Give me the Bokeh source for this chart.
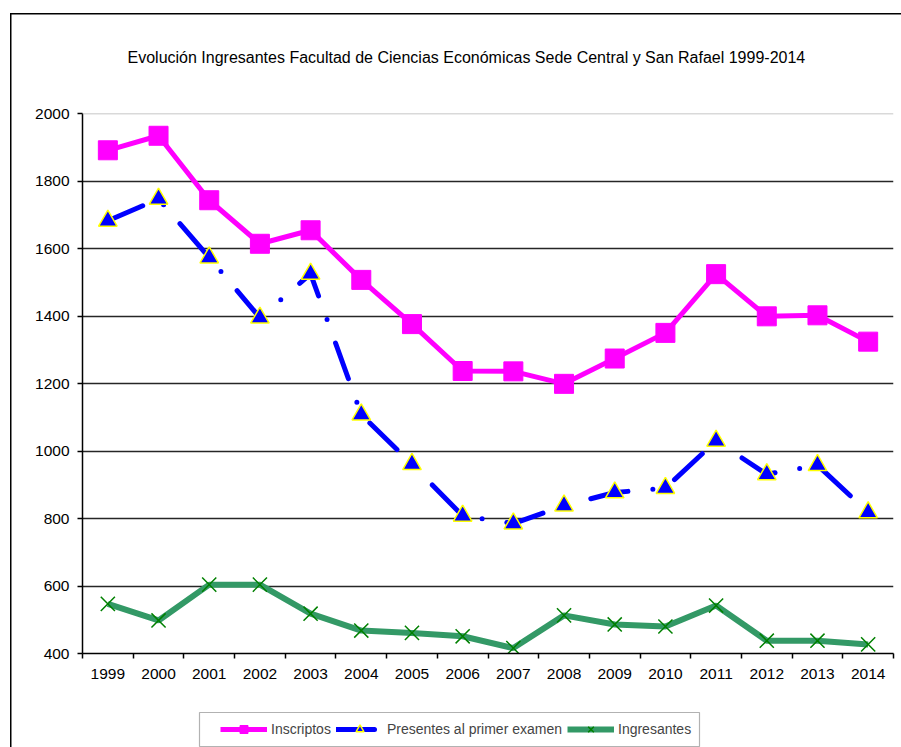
from bokeh.plotting import figure
from bokeh.layouts import column
from bokeh.models import Range1d, FixedTicker, Span, Legend, LegendItem, BoxAnnotation
from bokeh.embed import file_html
from bokeh.resources import INLINE

# ---- data ----
years = [str(y) for y in range(1999, 2015)]
inscriptos = [1891, 1934, 1743, 1614, 1654, 1507, 1376, 1237, 1236, 1199, 1274, 1350, 1524, 1399, 1402, 1324]
presentes = [1682, 1747, 1573, 1395, 1525, 1108, 961, 808, 785, 838, 877, 890, 1030, 931, 958, 818]
ingresantes = [547, 498, 604, 604, 518, 468, 461, 451, 416, 513, 486, 480, 542, 438, 438, 427]
y_ticks = [400, 600, 800, 1000, 1200, 1400, 1600, 1800, 2000]
series_names = ["Inscriptos", "Presentes al primer examen", "Ingresantes"]
title_text = "Evolución Ingresantes Facultad de Ciencias Económicas Sede Central y San Rafael 1999-2014"

x = list(range(1, len(years) + 1))
FONT = "Liberation Sans"

STYLES = [
    dict(line=dict(line_color="#FF00FF", line_width=5),
         marker=dict(marker="square", size=19, fill_color="#FF00FF", line_color="#FF00FF")),
    dict(line=dict(line_color="#0000FF", line_width=5, line_dash="38 25 0 25", line_cap="round"),
         marker=dict(marker="triangle", size=18.5, fill_color="#0000FF", line_color="#FFFF00", line_width=1.5)),
    dict(line=dict(line_color="#339966", line_width=6),
         marker=dict(marker="x", size=20, line_color="#008000", line_width=1.5)),
]
values = [inscriptos, presentes, ingresantes]

# ---------------- main chart ----------------
p = figure(width=901, height=700, output_backend="svg", toolbar_location=None,
           x_range=Range1d(0.5, len(years) + 0.5), y_range=Range1d(400, 2000),
           min_border_left=82, min_border_right=8, min_border_top=113, min_border_bottom=47)
p.outline_line_color = None
p.background_fill_color = "white"
p.border_fill_color = None
p.styles = {
    "background-color": "white",
    "background-image": "linear-gradient(#000, #000), linear-gradient(#000, #000)",
    "background-size": "1.5px 100%, 100% 1.5px",
    "background-position": "10px 13px, 10px 13px",
    "background-repeat": "no-repeat",
}

p.title.text = title_text
p.title.align = "left"
p.title.offset = 45
p.title.vertical_align = "top"
p.title.standoff = 92
p.title.text_font = FONT
p.title.text_font_size = "16px"
p.title.text_font_style = "normal"
p.title.text_color = "black"

p.xgrid.visible = False
p.ygrid.ticker = FixedTicker(ticks=y_ticks[1:-1])
p.ygrid.grid_line_color = "#262626"
p.ygrid.grid_line_width = 1.5
p.add_layout(Span(location=y_ticks[-1], dimension="width", line_color="#b4b4b4", line_width=1.5))

p.yaxis.ticker = FixedTicker(ticks=y_ticks)
p.yaxis.major_tick_out = 5
p.yaxis.major_tick_in = 0
p.yaxis.minor_tick_out = 0
p.yaxis.minor_tick_in = 0
p.yaxis.major_label_standoff = 8

p.xaxis.ticker = FixedTicker(ticks=x, minor_ticks=[i + 0.5 for i in range(len(years) + 1)])
p.xaxis.major_label_overrides = {xi: yr for xi, yr in zip(x, years)}
p.xaxis.major_tick_out = 0
p.xaxis.major_tick_in = 0
p.xaxis.minor_tick_out = 5
p.xaxis.minor_tick_in = 0
p.xaxis.major_label_standoff = 10

for ax in (p.xaxis[0], p.yaxis[0]):
    ax.axis_line_color = "black"
    ax.axis_line_width = 1.5
    ax.major_tick_line_color = "black"
    ax.major_tick_line_width = 1.5
    ax.minor_tick_line_color = "black"
    ax.minor_tick_line_width = 1.5
    ax.major_label_text_font = FONT
    ax.major_label_text_font_size = "15.5px"
    ax.major_label_text_color = "black"

for vals, st in zip(values, STYLES):
    p.line(x, vals, **st["line"])
    p.scatter(x, vals, **st["marker"])

# ---------------- legend strip (frame aligned with the chart: 82..893 px) ----------------
p2 = figure(width=901, height=47, output_backend="svg", toolbar_location=None,
            x_range=Range1d(82, 893), y_range=Range1d(0, 47),
            x_axis_type=None, y_axis_type=None,
            min_border_left=82, min_border_right=8, min_border_top=0, min_border_bottom=0)
p2.outline_line_color = None
p2.background_fill_color = None
p2.border_fill_color = None
p2.xgrid.visible = False
p2.ygrid.visible = False
p2.styles = {
    "background-color": "white",
    "background-image": "linear-gradient(#000, #000)",
    "background-size": "1.5px 100%",
    "background-position": "10px 0px",
    "background-repeat": "no-repeat",
}
# legend samples (same series, drawn on a range that is off-screen)
p2.extra_x_ranges = {"off": Range1d(1000, 1001)}
items = []
for name, vals, st in zip(series_names, values, STYLES):
    rl = p2.line(x, vals, x_range_name="off", **st["line"])
    rm = p2.scatter(x, vals, x_range_name="off", **st["marker"])
    items.append(LegendItem(label=name, renderers=[rl, rm]))

p2.add_layout(BoxAnnotation(left=199, right=699, bottom=1, top=35,
                            fill_color="white", fill_alpha=1,
                            line_color="black", line_width=1.2))
legend = Legend(items=items, orientation="horizontal", location=(138, 8),
                padding=0, margin=0, spacing=5, glyph_width=47, glyph_height=20,
                label_standoff=4, label_text_font=FONT, label_text_font_size="14px",
                border_line_alpha=0, background_fill_alpha=0)
p2.add_layout(legend)

layout = column(p, p2, spacing=0)
open("out.html", "w").write(file_html(layout, INLINE))
